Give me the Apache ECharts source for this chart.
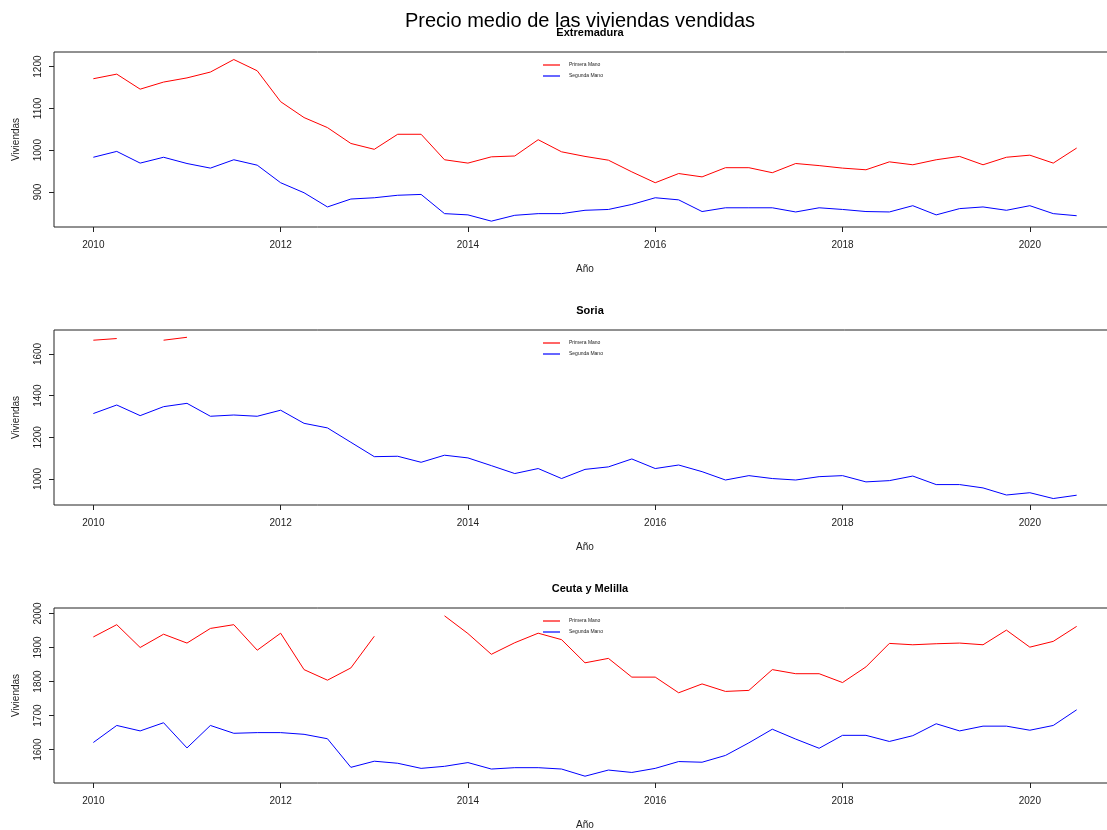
<!DOCTYPE html>
<html>
<head>
<meta charset="utf-8">
<script src="https://cdn.jsdelivr.net/npm/echarts@6/dist/echarts.min.js"></script>
<style>
html,body{margin:0;padding:0;background:#fff;}
#chart{width:1107px;height:830px;}
</style>
</head>
<body>
<div id="chart"></div>
<script>
// Quarterly periods (year + fraction)
const years = [2010.00,2010.25,2010.50,2010.75,2011.00,2011.25,2011.50,2011.75,
  2012.00,2012.25,2012.50,2012.75,2013.00,2013.25,2013.50,2013.75,
  2014.00,2014.25,2014.50,2014.75,2015.00,2015.25,2015.50,2015.75,
  2016.00,2016.25,2016.50,2016.75,2017.00,2017.25,2017.50,2017.75,
  2018.00,2018.25,2018.50,2018.75,2019.00,2019.25,2019.50,2019.75,
  2020.00,2020.25,2020.50];
const xTicks = [2010,2012,2014,2016,2018,2020];

const regions = ['Extremadura','Soria','Ceuta y Melilla'];
const seriesNames = ['Primera Mano','Segunda Mano'];

const extremaduraPrimera = [1171,1182,1146,1163,1173,1187,1217,1190,1116,1078,1054,1016,1002,1038,1038,977,
  969,984,986,1025,996,985,976,948,922,944,936,958,958,946,968,963,957,953,972,965,977,985,965,983,988,969,1005];
const extremaduraSegunda = [983,997,969,983,968,957,977,964,922,898,864,883,886,892,894,848,
  845,830,844,848,848,856,858,870,886,881,853,862,862,862,852,862,858,853,852,867,845,860,864,856,867,848,843];

const soriaPrimera = [1666,1674,null,1666,1680,null,null,null,null,null,null,null,null,null,null,null,
  null,null,null,null,null,null,null,null,null,null,null,null,null,null,null,null,null,null,null,null,null,null,null,null,null,null,null];
const soriaSegunda = [1314,1355,1304,1347,1363,1301,1307,1301,1330,1267,1245,1176,1107,1109,1080,1114,
  1101,1064,1026,1050,1002,1046,1058,1096,1050,1067,1035,995,1016,1002,995,1011,1016,986,992,1014,973,973,957,923,934,906,922];

const ceutaPrimera = [1931,1967,1900,1939,1913,1956,1967,1892,1942,1835,1804,1840,1933,null,null,1993,
  1941,1880,1914,1942,1923,1855,1868,1813,1813,1767,1793,1771,1774,1835,1823,1823,1797,1843,1912,1908,1911,1913,1908,1951,1901,1918,1962];
const ceutaSegunda = [1621,1671,1655,1679,1605,1671,1648,1650,1650,1645,1632,1548,1566,1560,1545,1551,
  1562,1543,1547,1547,1543,1522,1540,1533,1545,1565,1563,1583,1620,1660,1631,1604,1642,1642,1624,1641,1676,1655,1669,1669,1657,1671,1717];

const yTicks = [[900,1000,1100,1200],[1000,1200,1400,1600],[1600,1700,1800,1900,2000]];
const yRanges = [[816,1235],[875,1715],[1502,2016]];
const xRange = [2009.58,2020.92];

const panelData = [
  [extremaduraPrimera, extremaduraSegunda],
  [soriaPrimera, soriaSegunda],
  [ceutaPrimera, ceutaSegunda]
];

const colors = ['#ff0000','#0000ff'];
const gridTops = [52, 330, 608];
const gridHeights = [175, 175, 175];
const FONT = '"Liberation Sans", Arial, Helvetica, sans-serif';

const pair = (vals) => years.map((y,i)=>[y, vals[i]]);

const grids = [], xAxes = [], yAxes = [], series = [], titles = [], legends = [];

titles.push({
  text: 'Precio medio de las viviendas vendidas',
  left: 575, top: 6, textAlign: 'center',
  textStyle: {fontFamily: FONT, fontSize: 20, fontWeight: 'normal', color: '#000'}
});

for (let p = 0; p < 3; p++) {
  grids.push({left: 54, width: 1062, top: gridTops[p], height: gridHeights[p],
    outerBoundsMode: 'none', containLabel: false,
    show: true, borderColor: '#222', borderWidth: 1, backgroundColor: 'transparent'});
  titles.push({
    text: regions[p], left: 585, top: gridTops[p] - 30, textAlign: 'center',
    textStyle: {fontFamily: FONT, fontSize: 11, fontWeight: 'bold', color: '#000'}
  });
  xAxes.push({
    type: 'value', gridIndex: p, min: xRange[0], max: xRange[1],
    name: 'Año', nameLocation: 'middle', nameGap: 37,
    nameTextStyle: {fontFamily: FONT, fontSize: 10, color: '#222'},
    axisLine: {show: false, onZero: false},
    splitLine: {show: false},
    axisTick: {show: true, length: 5, customValues: xTicks, lineStyle: {color: '#222'}},
    axisLabel: {customValues: xTicks, fontFamily: FONT, fontSize: 10, color: '#222', margin: 13,
      formatter: v => String(v)}
  });
  yAxes.push({
    type: 'value', gridIndex: p, min: yRanges[p][0], max: yRanges[p][1],
    name: 'Viviendas', nameLocation: 'middle', nameGap: 33, nameRotate: 90,
    nameTextStyle: {fontFamily: FONT, fontSize: 10, color: '#222'},
    axisLine: {show: false},
    splitLine: {show: false},
    axisTick: {show: true, length: 5, customValues: yTicks[p], lineStyle: {color: '#222'}},
    axisLabel: {customValues: yTicks[p], rotate: 90, fontFamily: FONT, fontSize: 10, color: '#222', margin: 11,
      formatter: v => String(v)}
  });
  for (let s = 0; s < 2; s++) {
    series.push({
      name: seriesNames[s], type: 'line', xAxisIndex: p, yAxisIndex: p,
      data: pair(panelData[p][s]), symbol: 'none', showSymbol: false,
      connectNulls: false, animation: false,
      lineStyle: {color: colors[s], width: 1}, itemStyle: {color: colors[s]}
    });
  }
  legends.push({
    data: seriesNames, orient: 'vertical', left: 543, top: gridTops[p] + 10,
    padding: 0, icon: 'rect', itemWidth: 17, itemHeight: 1.2, itemGap: 5,
    textStyle: {fontFamily: FONT, fontSize: 5, color: '#222', padding: [0,0,0,4], lineHeight: 6},
    selectedMode: false
  });
}

const chart = echarts.init(document.getElementById('chart'), null, {renderer: 'canvas'});
chart.setOption({
  animation: false,
  backgroundColor: '#fff',
  title: titles, legend: legends, grid: grids, xAxis: xAxes, yAxis: yAxes, series: series
});
</script>
</body>
</html>
